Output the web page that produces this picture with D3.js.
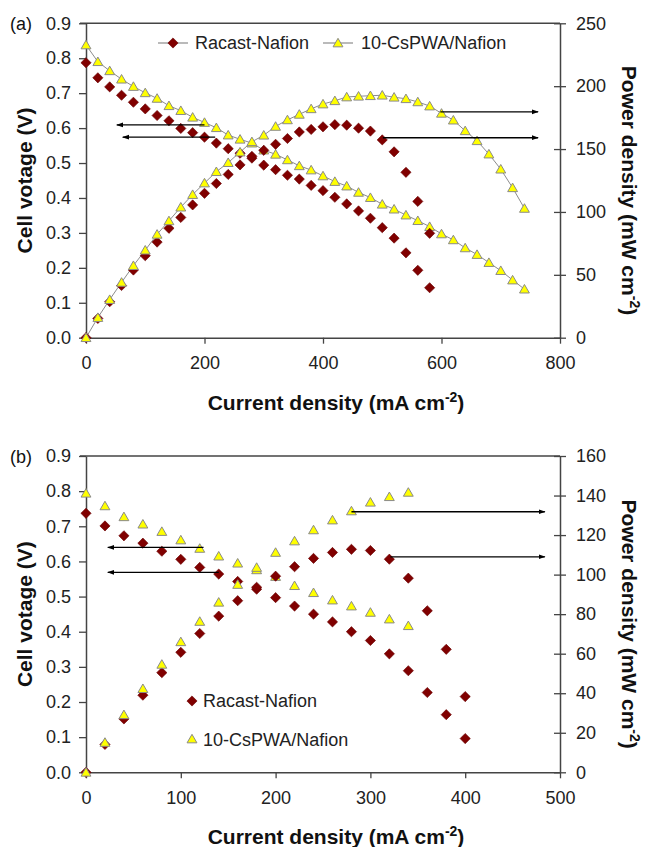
<!DOCTYPE html>
<html>
<head>
<meta charset="utf-8">
<script src="https://cdnjs.cloudflare.com/ajax/libs/d3/7.8.5/d3.min.js"></script>
<style>
  body { margin: 0; background: #fff; }
  svg { font-family: "Liberation Sans", Arial, sans-serif; }
</style>
</head>
<body>
<svg id="chart" width="646" height="847"></svg>
<script>
// Données - panneau (a)
const aCurrentRacast = [0, 20, 40, 60, 80, 100, 120, 140, 160, 180, 200, 220, 240, 260, 280, 300, 320, 340, 360, 380, 400, 420, 440, 460, 480, 500, 520, 540, 560, 580];
const aVoltRacast = [0.787, 0.744, 0.718, 0.694, 0.674, 0.655, 0.636, 0.621, 0.599, 0.587, 0.574, 0.557, 0.541, 0.528, 0.514, 0.494, 0.481, 0.465, 0.454, 0.436, 0.421, 0.402, 0.383, 0.363, 0.342, 0.315, 0.285, 0.243, 0.193, 0.143];
const aPowerRacast = [0, 15.3, 28.6, 41.5, 53.8, 65.2, 76.0, 87.0, 95.6, 105.6, 114.8, 122.6, 129.8, 137.4, 144.2, 149.0, 153.8, 158.4, 163.6, 165.6, 167.7, 169.4, 169.0, 166.6, 164.3, 157.3, 147.8, 131.5, 108.4, 83.0];

const aCurrentCs = [0, 20, 40, 60, 80, 100, 120, 140, 160, 180, 200, 220, 240, 260, 280, 300, 320, 340, 360, 380, 400, 420, 440, 460, 480, 500, 520, 540, 560, 580, 600, 620, 640, 660, 680, 700, 720, 740];
const aVoltCs = [0.838, 0.790, 0.764, 0.740, 0.719, 0.701, 0.685, 0.664, 0.650, 0.631, 0.616, 0.601, 0.580, 0.568, 0.557, 0.537, 0.525, 0.509, 0.492, 0.480, 0.463, 0.447, 0.434, 0.416, 0.401, 0.382, 0.368, 0.351, 0.335, 0.318, 0.297, 0.280, 0.257, 0.238, 0.215, 0.192, 0.165, 0.139];
const aPowerCs = [0, 16.0, 30.3, 44.0, 57.3, 69.6, 82.2, 92.9, 103.8, 113.8, 123.0, 132.0, 139.2, 147.6, 155.8, 161.0, 168.0, 173.2, 177.6, 182.0, 185.8, 188.4, 191.4, 192.0, 192.4, 192.8, 191.2, 190.0, 187.5, 184.2, 178.4, 173.0, 164.5, 156.6, 146.0, 134.0, 119.2, 102.8];

// Données - panneau (b)
const bCurrentRacast = [0, 20, 40, 60, 80, 100, 120, 140, 160, 180, 200, 220, 240, 260, 280, 300, 320, 340, 360, 380, 400];
const bVoltRacast = [0.737, 0.701, 0.673, 0.652, 0.629, 0.606, 0.583, 0.564, 0.543, 0.521, 0.497, 0.473, 0.450, 0.428, 0.400, 0.375, 0.337, 0.289, 0.227, 0.164, 0.096];
const bPowerRacast = [0, 14.1, 27.0, 39.0, 50.4, 60.7, 70.2, 79.0, 86.8, 93.6, 99.2, 104.0, 108.2, 111.2, 112.8, 112.2, 107.8, 98.2, 81.7, 62.2, 38.3];

const bCurrentCs = [0, 20, 40, 60, 80, 100, 120, 140, 160, 180, 200, 220, 240, 260, 280, 300, 320, 340];
const bVoltCs = [0.794, 0.758, 0.727, 0.706, 0.685, 0.661, 0.637, 0.615, 0.595, 0.576, 0.557, 0.531, 0.511, 0.490, 0.473, 0.455, 0.436, 0.417];
const bPowerCs = [0, 15.1, 29.1, 42.3, 54.6, 66.0, 76.3, 86.0, 95.0, 103.6, 111.2, 117.0, 122.6, 127.6, 132.2, 136.6, 139.4, 141.6];

// Graduations
const voltTicks = [0, 0.1, 0.2, 0.3, 0.4, 0.5, 0.6, 0.7, 0.8, 0.9];
const aCurrentTicks = [0, 200, 400, 600, 800];
const aPowerTicks = [0, 50, 100, 150, 200, 250];
const bCurrentTicks = [0, 100, 200, 300, 400, 500];
const bPowerTicks = [0, 20, 40, 60, 80, 100, 120, 140, 160];

// Flèches (unités des données : courant, et tension ou puissance)
const aArrows = [
    { from: 200, to: 52, value: 0.609, axis: "V" },
    { from: 218, to: 62, value: 0.574, axis: "V" },
    { from: 598, to: 763, value: 179.6, axis: "P" },
    { from: 501, to: 763, value: 159, axis: "P" }
];
const bArrows = [
    { from: 124, to: 23, value: 0.640, axis: "V" },
    { from: 140, to: 23, value: 0.569, axis: "V" },
    { from: 280, to: 484, value: 131.8, axis: "P" },
    { from: 321, to: 484, value: 109, axis: "P" }
];

const seriesNames = ["Racast-Nafion", "10-CsPWA/Nafion"];

const svg = d3.select("#chart");
const xLeft = 86, xRight = 560;
const axisColor = "#444";
const redColor = "#800000";
const yellowColor = "#ffff00";
const triStroke = "#8a8a8a";

// Tête de flèche
svg.append("defs").append("marker")
    .attr("id", "arrow")
    .attr("viewBox", "0 0 10 10")
    .attr("refX", 9).attr("refY", 5)
    .attr("markerWidth", 7).attr("markerHeight", 7)
    .attr("markerUnits", "userSpaceOnUse")
    .attr("orient", "auto")
    .append("path")
    .attr("d", "M0,1.5 L10,5 L0,8.5 Z")
    .attr("fill", "#000");

const diamond = d3.symbol().type(d3.symbolSquare).size(52);
const triangle = d3.symbol().type(d3.symbolTriangle).size(42);

function drawPanel(p) {
    const g = svg.append("g");
    const x = d3.scaleLinear().domain([0, p.xMax]).range([xLeft, xRight]);
    const yV = d3.scaleLinear().domain([0, 0.9]).range([p.bottom, p.top]);
    const yP = d3.scaleLinear().domain([0, p.pMax]).range([p.bottom, p.top]);

    // Cadre supérieur
    g.append("line")
        .attr("x1", xLeft - 6).attr("x2", xRight)
        .attr("y1", p.top).attr("y2", p.top)
        .attr("stroke", axisColor).attr("stroke-width", 1.5);

    // Axe gauche
    const left = g.append("g")
        .attr("transform", `translate(${xLeft},0)`)
        .call(d3.axisLeft(yV).tickValues(voltTicks).tickFormat(d3.format(".1f"))
            .tickSize(7).tickSizeOuter(0).tickPadding(8));

    // Axe droit
    const right = g.append("g")
        .attr("transform", `translate(${xRight},0)`)
        .call(d3.axisRight(yP).tickValues(p.pTicks).tickFormat(d3.format("d"))
            .tickSize(6).tickSizeOuter(0).tickPadding(10));
    right.selectAll(".tick line").attr("x1", -6);

    // Axe du bas
    const bottom = g.append("g")
        .attr("transform", `translate(0,${p.bottom})`)
        .call(d3.axisBottom(x).tickValues(p.xTicks).tickFormat(d3.format("d"))
            .tickSize(6).tickSizeOuter(0).tickPadding(13));

    [left, right, bottom].forEach(a => {
        a.select(".domain").attr("stroke", axisColor).attr("stroke-width", 1.5);
        a.selectAll(".tick line").attr("stroke", axisColor).attr("stroke-width", 1.3);
        a.selectAll("text").attr("font-size", 18).attr("fill", "#222")
            .attr("font-family", "Liberation Sans, Arial, sans-serif");
    });

    // Titres des axes
    g.append("text")
        .attr("transform", `translate(32,${(p.top + p.bottom) / 2}) rotate(-90)`)
        .attr("text-anchor", "middle")
        .attr("font-size", 21).attr("font-weight", "bold").attr("fill", "#111")
        .text("Cell votage (V)");

    const pt = g.append("text")
        .attr("transform", `translate(622,${(p.top + p.bottom) / 2 + 10}) rotate(90)`)
        .attr("text-anchor", "middle")
        .attr("font-size", 21).attr("font-weight", "bold").attr("fill", "#111");
    pt.append("tspan").text("Power density (mW cm");
    pt.append("tspan").attr("font-size", 14).attr("dy", -8).text("-2");
    pt.append("tspan").attr("dy", 8).text(")");

    const xt = g.append("text")
        .attr("x", 336).attr("y", p.bottom + 72)
        .attr("text-anchor", "middle")
        .attr("font-size", 21).attr("font-weight", "bold").attr("fill", "#111");
    xt.append("tspan").text("Current density (mA cm");
    xt.append("tspan").attr("font-size", 14).attr("dy", -8).text("-2");
    xt.append("tspan").attr("dy", 8).text(")");

    // Étiquette du panneau
    g.append("text")
        .attr("x", 10).attr("y", p.top + 7)
        .attr("font-size", 18).attr("fill", "#111")
        .text(p.label);

    // Ligne grise de la série CsPWA (panneau a seulement)
    if (p.csLine) {
        const line = d3.line().x(d => x(d[0])).y(d => d[1]);
        const vPts = p.csX.map((c, i) => [c, yV(p.csV[i])]);
        const pPts = p.csX.map((c, i) => [c, yP(p.csP[i])]);
        [vPts, pPts].forEach(pts => {
            g.append("path")
                .attr("d", line(pts))
                .attr("fill", "none")
                .attr("stroke", "#8c8c8c")
                .attr("stroke-width", 1);
        });
    }

    // Points : tension CsPWA, tension Racast, puissance Racast, puissance CsPWA
    const drawTri = (xs, vals, scale) => {
        g.append("g").selectAll("path")
            .data(xs.map((c, i) => [c, vals[i]]))
            .enter().append("path")
            .attr("d", triangle)
            .attr("transform", d => `translate(${x(d[0])},${scale(d[1]) + 1})`)
            .attr("fill", yellowColor)
            .attr("stroke", triStroke)
            .attr("stroke-width", 1);
    };
    const drawDia = (xs, vals, scale) => {
        g.append("g").selectAll("path")
            .data(xs.map((c, i) => [c, vals[i]]))
            .enter().append("path")
            .attr("d", diamond)
            .attr("transform", d => `translate(${x(d[0])},${scale(d[1])}) rotate(45)`)
            .attr("fill", redColor)
            .attr("stroke", "#6a0000")
            .attr("stroke-width", 0.6);
    };
    drawTri(p.csX, p.csV, yV);
    drawDia(p.raX, p.raV, yV);
    drawDia(p.raX, p.raP, yP);
    drawTri(p.csX, p.csP, yP);

    // Flèches
    g.append("g").selectAll("line")
        .data(p.arrows)
        .enter().append("line")
        .attr("x1", d => x(d.from)).attr("x2", d => x(d.to))
        .attr("y1", d => (d.axis === "V" ? yV : yP)(d.value))
        .attr("y2", d => (d.axis === "V" ? yV : yP)(d.value))
        .attr("stroke", "#000").attr("stroke-width", 1.3)
        .attr("marker-end", "url(#arrow)");

    return g;
}

const gA = drawPanel({
    label: "(a)", top: 23.3, bottom: 337.7, xMax: 800, pMax: 250,
    xTicks: aCurrentTicks, pTicks: aPowerTicks,
    raX: aCurrentRacast, raV: aVoltRacast, raP: aPowerRacast,
    csX: aCurrentCs, csV: aVoltCs, csP: aPowerCs,
    arrows: aArrows, csLine: true
});

const gB = drawPanel({
    label: "(b)", top: 456, bottom: 772.3, xMax: 500, pMax: 160,
    xTicks: bCurrentTicks, pTicks: bPowerTicks,
    raX: bCurrentRacast, raV: bVoltRacast, raP: bPowerRacast,
    csX: bCurrentCs, csV: bVoltCs, csP: bPowerCs,
    arrows: bArrows, csLine: false
});

// Légende du panneau (a) : en ligne, avec traits gris
const legA = gA.append("g");
[{ x0: 158, x1: 188, text: 195, sym: diamond, fill: redColor, rot: 45 },
 { x0: 323, x1: 353, text: 361, sym: triangle, fill: yellowColor, rot: 0 }]
    .forEach((d, i) => {
        legA.append("line")
            .attr("x1", d.x0).attr("x2", d.x1).attr("y1", 43).attr("y2", 43)
            .attr("stroke", "#8c8c8c").attr("stroke-width", 1.2);
        legA.append("path")
            .attr("d", d.sym)
            .attr("transform", `translate(${(d.x0 + d.x1) / 2},${i === 0 ? 43 : 44}) rotate(${d.rot})`)
            .attr("fill", d.fill)
            .attr("stroke", i === 0 ? "#6a0000" : triStroke)
            .attr("stroke-width", i === 0 ? 0.6 : 1);
        legA.append("text")
            .attr("x", d.text).attr("y", 43).attr("dy", "0.35em")
            .attr("font-size", 18).attr("fill", "#222")
            .text(seriesNames[i]);
    });

// Légende du panneau (b) : symboles seuls, en colonne
const legB = gB.append("g");
[{ y: 701, sym: diamond, fill: redColor, rot: 45 },
 { y: 740, sym: triangle, fill: yellowColor, rot: 0 }]
    .forEach((d, i) => {
        legB.append("path")
            .attr("d", d.sym)
            .attr("transform", `translate(192,${d.y}) rotate(${d.rot})`)
            .attr("fill", d.fill)
            .attr("stroke", i === 0 ? "#6a0000" : triStroke)
            .attr("stroke-width", i === 0 ? 0.6 : 1);
        legB.append("text")
            .attr("x", 203).attr("y", d.y).attr("dy", "0.35em")
            .attr("font-size", 18).attr("fill", "#222")
            .text(seriesNames[i]);
    });
</script>
</body>
</html>
